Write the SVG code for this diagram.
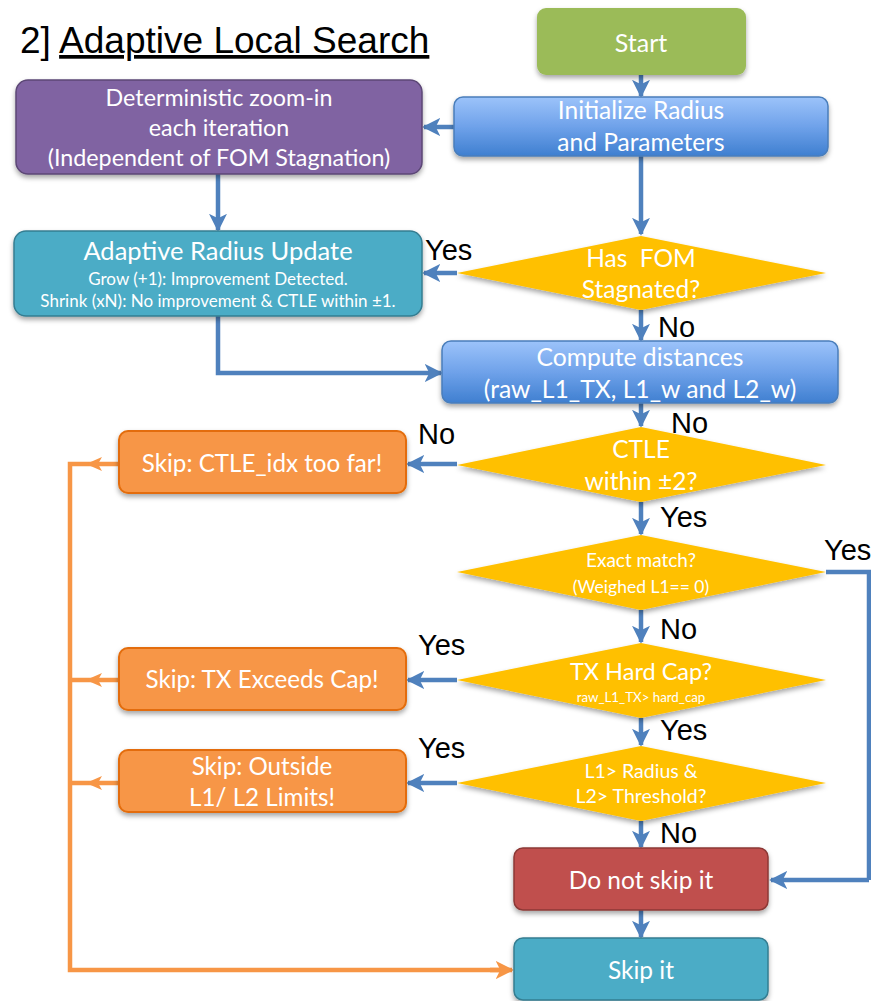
<svg xmlns="http://www.w3.org/2000/svg" width="871" height="1001" viewBox="0 0 871 1001">
<defs>
<linearGradient id="gblue" x1="0" y1="0" x2="0" y2="1">
<stop offset="0" stop-color="#9CC3FA"/>
<stop offset="0.5" stop-color="#6FA2EA"/>
<stop offset="1" stop-color="#3F7FD0"/>
</linearGradient>
<filter id="sh" x="-10%" y="-10%" width="120%" height="140%">
<feDropShadow dx="0" dy="3" stdDeviation="2.5" flood-color="#000" flood-opacity="0.35"/>
</filter>
<marker id="ab" viewBox="0 0 10 10" refX="9" refY="5" markerWidth="4" markerHeight="4" orient="auto" markerUnits="strokeWidth">
<path d="M0,0 L10,5 L0,10 L2.5,5 z" fill="#4F81BD"/>
</marker>
<marker id="ao" viewBox="0 0 10 10" refX="9" refY="5" markerWidth="4" markerHeight="4" orient="auto" markerUnits="strokeWidth">
<path d="M0,0 L10,5 L0,10 L2.5,5 z" fill="#F79646"/>
</marker>
</defs>
<style>
.t{font-family:Lato,"Open Sans",sans-serif;fill:#fff;text-anchor:middle}
.lbl{font-family:"Liberation Sans",Arial,sans-serif;fill:#000;font-size:29px}
.cb{fill:none;stroke:#4F81BD;stroke-width:4.5;marker-end:url(#ab)}
.cbn{fill:none;stroke:#4F81BD;stroke-width:4.5}
.co{fill:none;stroke:#F79646;stroke-width:4.5}
.coa{fill:none;stroke:#F79646;stroke-width:4.5;marker-end:url(#ao)}
.dia{fill:#FFC000;filter:url(#sh)}
.org{fill:#F79646;stroke:#E36C09;stroke-width:2;filter:url(#sh)}
</style>
<rect width="871" height="1001" fill="#fff"/>
<g id="title">
<text x="20" y="53" style="font-family:'Liberation Sans',Arial,sans-serif;font-size:37px;fill:#000">2] <tspan text-decoration="underline">Adaptive Local Search</tspan></text>
</g>
<g id="connectors">
<path class="cb" d="M641,75 V96"/>
<path class="cb" d="M454,127 H424"/>
<path class="cb" d="M218,174 V230"/>
<path class="cb" d="M641,156 V234"/>
<path class="cb" d="M457,273 H424"/>
<path class="cb" d="M218,316 V373 H441"/>
<path class="cb" d="M641,310 V340"/>
<path class="cb" d="M641,403 V426"/>
<path class="cb" d="M457,464 H408"/>
<path class="cb" d="M641,502 V534"/>
<path class="cbn" d="M826,572 H869 V880"/>
<path class="cb" d="M869,880 H771"/>
<path class="cb" d="M641,610 V642"/>
<path class="cb" d="M457,680 H408"/>
<path class="cb" d="M641,718 V745"/>
<path class="cb" d="M457,783 H408"/>
<path class="cb" d="M641,821 V847"/>
<path class="cb" d="M641,910 V937"/>
<path class="co" d="M119,464 H70 V970 H500"/>
<path class="co" d="M119,680 H70"/>
<path class="co" d="M119,783 H70"/>
<path class="coa" d="M490,970 H512"/>
<path d="M86,464 L102,457 L98,464 L102,471 z" fill="#F79646"/>
<path d="M86,680 L102,673 L98,680 L102,687 z" fill="#F79646"/>
<path d="M86,783 L102,776 L98,783 L102,790 z" fill="#F79646"/>
</g>
<g id="start">
<rect x="537" y="8" width="209" height="67" rx="9" fill="#9BBB59" filter="url(#sh)"/>
<text class="t" x="641" y="52" font-size="25">Start</text>
</g>
<g id="init">
<rect x="454" y="97" width="374" height="59" rx="9" fill="url(#gblue)" stroke="#4A7EBB" stroke-width="1.5" filter="url(#sh)"/>
<text class="t" x="641" y="119" font-size="24.5">Initialize Radius</text>
<text class="t" x="641" y="151" font-size="24.5">and Parameters</text>
</g>
<g id="determ">
<rect x="16" y="80" width="406" height="94" rx="12" fill="#8064A2" stroke="#5C4776" stroke-width="1.5" filter="url(#sh)"/>
<text class="t" x="219" y="106" font-size="23.3">Deterministic zoom-in</text>
<text class="t" x="219" y="136" font-size="23.3">each iteration</text>
<text class="t" x="219" y="166" font-size="23.3">(Independent of FOM Stagnation)</text>
</g>
<g id="adaptive">
<rect x="14" y="231" width="408" height="85" rx="12" fill="#4BACC6" stroke="#357D91" stroke-width="1.5" filter="url(#sh)"/>
<text class="t" x="218" y="260" font-size="25.5">Adaptive Radius Update</text>
<text class="t" x="218" y="285" font-size="17">Grow (+1): Improvement Detected.</text>
<text class="t" x="218" y="307" font-size="17">Shrink (xN): No improvement &amp; CTLE within ±1.</text>
</g>
<g id="hasfom">
<polygon class="dia" points="641,236 826,273 641,310 457,273"/>
<text class="t" x="641" y="267" font-size="24.5" xml:space="preserve">Has  FOM</text>
<text class="t" x="641" y="298" font-size="24.5">Stagnated?</text>
<text class="lbl" x="425" y="260">Yes</text>
<text class="lbl" x="658" y="337">No</text>
</g>
<g id="compute">
<rect x="442" y="341" width="396" height="62" rx="9" fill="url(#gblue)" stroke="#4A7EBB" stroke-width="1.5" filter="url(#sh)"/>
<text class="t" x="640" y="366" font-size="24.7">Compute distances</text>
<text class="t" x="640" y="398" font-size="24.7">(raw_L1_TX, L1_w and L2_w)</text>
<text class="lbl" x="671" y="433">No</text>
</g>
<g id="ctle">
<polygon class="dia" points="641,427 826,465 641,502 457,465"/>
<text class="t" x="641" y="458" font-size="24.5">CTLE</text>
<text class="t" x="641" y="490" font-size="24.5">within ±2?</text>
<text class="lbl" x="418" y="444">No</text>
<text class="lbl" x="660" y="527">Yes</text>
</g>
<g id="skipctle">
<rect x="119" y="431" width="287" height="62" rx="9" class="org"/>
<text class="t" x="262" y="472" font-size="24.2">Skip: CTLE_idx too far!</text>
</g>
<g id="exact">
<polygon class="dia" points="641,535 826,572 641,610 457,572"/>
<text class="t" x="641" y="567" font-size="19">Exact match?</text>
<text class="t" x="641" y="593" font-size="17.5">(Weighed L1== 0)</text>
<text class="lbl" x="824" y="560">Yes</text>
<text class="lbl" x="660" y="639">No</text>
</g>
<g id="txcap">
<polygon class="dia" points="641,643 826,680 641,718 457,680"/>
<text class="t" x="641" y="680" font-size="23.5">TX Hard Cap?</text>
<text class="t" x="641" y="702" font-size="13.3">raw_L1_TX&gt; hard_cap</text>
<text class="lbl" x="418" y="655">Yes</text>
<text class="lbl" x="660" y="740">Yes</text>
</g>
<g id="skiptx">
<rect x="119" y="648" width="287" height="62" rx="9" class="org"/>
<text class="t" x="262" y="688" font-size="24.2">Skip: TX Exceeds Cap!</text>
</g>
<g id="l1">
<polygon class="dia" points="641,746 826,783 641,821 457,783"/>
<text class="t" x="641" y="778" font-size="19.5">L1&gt; Radius &amp;</text>
<text class="t" x="641" y="803" font-size="19.5">L2&gt; Threshold?</text>
<text class="lbl" x="418" y="758">Yes</text>
<text class="lbl" x="660" y="843">No</text>
</g>
<g id="skipout">
<rect x="119" y="750" width="287" height="62" rx="9" class="org"/>
<text class="t" x="262" y="775" font-size="24.2">Skip: Outside</text>
<text class="t" x="262" y="806" font-size="24.2">L1/ L2 Limits!</text>
</g>
<g id="donot">
<rect x="514" y="848" width="254" height="62" rx="9" fill="#C0504D" stroke="#8C3836" stroke-width="1.5" filter="url(#sh)"/>
<text class="t" x="641" y="889" font-size="24.5">Do not skip it</text>
</g>
<g id="skipit">
<rect x="514" y="938" width="254" height="62" rx="9" fill="#4BACC6" stroke="#357D91" stroke-width="1.5" filter="url(#sh)"/>
<text class="t" x="641" y="979" font-size="24.5">Skip it</text>
</g>
</svg>
